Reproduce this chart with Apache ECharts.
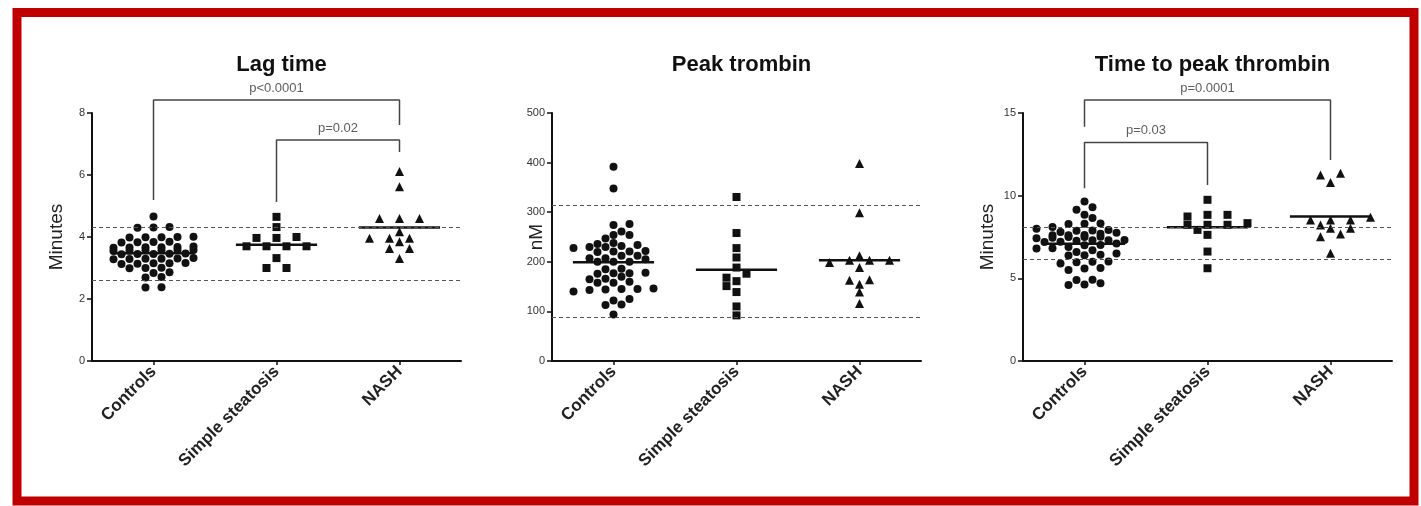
<!DOCTYPE html>
<html><head><meta charset="utf-8">
<script src="https://cdn.jsdelivr.net/npm/echarts@6/dist/echarts.min.js"></script>
<style>html,body{margin:0;padding:0;background:#fff}#chart{width:1421px;height:506px}</style>
</head><body><div id="chart"></div>
<script>
// ---------- DATA ----------
const categories = ['Controls', 'Simple steatosis', 'NASH'];

const lagControls = [4.66,
  4.32, 4.30, 4.31,
  4.00, 3.99, 4.01, 3.98, 3.99,
  3.84, 3.82, 3.83, 3.85,
  3.67, 3.68, 3.66, 3.67, 3.69, 3.65,
  3.57, 3.56, 3.58, 3.57, 3.55, 3.58,
  3.45, 3.46, 3.44, 3.45, 3.47,
  3.30, 3.31, 3.29, 3.30, 3.32, 3.28,
  3.15, 3.16, 3.14, 3.15, 3.13,
  3.00, 3.01, 2.99,
  2.86, 2.84,
  2.71, 2.69,
  2.38, 2.37];
const lagSteatosis = [4.65, 4.32, 4.00, 3.97, 3.97, 3.70, 3.70, 3.70, 3.70, 3.32, 3.00, 3.00];
const lagNash = [6.11, 5.62, 4.60, 4.60, 4.60, 4.17, 3.96, 3.96, 3.96, 3.85, 3.63, 3.63, 3.31];
const lagRefLines = [4.3, 2.6];

const peakControls = [391.6, 347.6, 276, 274, 261, 254, 254, 247, 238, 236,
  234, 232, 230, 230, 228, 222, 221, 221, 220, 212,
  212, 207, 207, 205, 200, 200, 200, 186, 185, 178,
  177, 177, 176, 170, 166, 165, 160, 158, 158, 146,
  145, 145, 144, 143, 140, 125, 122, 114, 113, 93.5];
const peakSteatosis = [330.7, 258, 227.6, 208.7, 188.4, 176, 168, 161, 151, 139, 110, 92];
const peakNash = [398, 299, 212, 203, 203, 203, 198.6, 188.4, 164, 163, 154.5, 139, 116];
const peakRefLines = [315, 88];

const ttpControls = [9.65, 9.30, 9.15, 8.85, 8.65, 8.30, 8.32, 8.28, 8.00, 7.90,
  7.92, 7.88, 8.10, 7.80, 7.70, 7.75, 7.60, 7.62, 7.50, 7.52,
  7.45, 7.40, 7.42, 7.30, 7.32, 7.28, 7.31, 7.20, 7.22, 7.10,
  7.00, 7.02, 6.90, 6.80, 6.82, 6.70, 6.60, 6.50, 6.40, 6.42,
  6.38, 7.60, 7.50, 6.00, 6.02, 5.98, 5.90, 5.60, 5.62, 5.50,
  4.90, 4.92, 4.70, 4.60, 4.62];
const ttpSteatosis = [9.75, 8.84, 8.84, 8.74, 8.34, 8.24, 8.24, 8.24, 7.93, 7.63, 6.62, 5.61];
const ttpNash = [11.35, 11.25, 10.79, 8.69, 8.53, 8.53, 8.53, 8.23, 8.03, 8.03, 7.68, 7.52, 6.52];
const ttpRefLines = [8.1, 6.15];

// brackets: from group, to group, bar level, leg ends, p-value text
const lagBrackets = [
  {from: 1, to: 3, y: 8.42, legFrom: 5.19, legTo: 7.61, text: 'p<0.0001', at: 2},
  {from: 2, to: 3, y: 7.13, legFrom: 5.13, legTo: 6.74, text: 'p=0.02', at: 2.5}
];
const peakBrackets = [];
const ttpBrackets = [
  {from: 1, to: 3, y: 15.79, legFrom: 14.17, legTo: 12.16, text: 'p=0.0001', at: 2},
  {from: 1, to: 2, y: 13.21, legFrom: 10.45, legTo: 10.65, text: 'p=0.03', at: 1.5}
];

const panelTitles = ['Lag time', 'Peak trombin', 'Time to peak thrombin'];
const yNames = ['Minutes', 'nM', 'Minutes'];
const yMaxes = [8, 500, 15];
const yIntervals = [2, 100, 5];

// ---------- LAYOUT ----------
const FONT = 'Liberation Sans, Arial, Helvetica, sans-serif';
const GRID_TOP = 113, GRID_H = 248, GRID_W = 369;
const gridLefts = [92, 552, 1023];
const nameGaps = [26, 6, 26];
const CAT_W = GRID_W / 3;
const SYMBOLS = ['circle', 'rect', 'triangle'];
const SYM_SIZE = [8, 8, 9];
const MEAN_HALF = 0.33;

const panels = [
  {groups: [lagControls, lagSteatosis, lagNash], refs: lagRefLines, brackets: lagBrackets},
  {groups: [peakControls, peakSteatosis, peakNash], refs: peakRefLines, brackets: peakBrackets},
  {groups: [ttpControls, ttpSteatosis, ttpNash], refs: ttpRefLines, brackets: ttpBrackets}
];

// deterministic row-based dot-plot layout (pixel offsets)
function swarm(values, pxPerUnit) {
  const big = values.length >= 30;
  const S = big ? 16 : 20, ROW_T = 3, DY = 7.5, DX = big ? 8 : 9, STEP = big ? 8 : 10;
  const idx = values.map((v, i) => i).sort((a, b) => values[a] - values[b]);
  const offs = new Array(values.length).fill(0);
  const placed = [];
  let i = 0, rowNo = 0;
  while (i < idx.length) {
    const y0 = values[idx[i]] * pxPerUnit;
    const row = [idx[i]]; i++;
    while (i < idx.length && values[idx[i]] * pxPerUnit - y0 < ROW_T) { row.push(idx[i]); i++; }
    const n = row.length;
    const base = row.map((_, k) => (k - (n - 1) / 2) * S);
    const sign = rowNo % 2 === 0 ? 1 : -1;
    const shifts = [0];
    for (let k = 1; k <= 6; k++) { shifts.push(sign * k * STEP, -sign * k * STEP); }
    let chosen = 0;
    for (const sh of shifts) {
      let ok = true;
      for (let k = 0; k < n && ok; k++) {
        const y = values[row[k]] * pxPerUnit, x = base[k] + sh;
        for (const p of placed) {
          if (Math.abs(p.y - y) < DY && Math.abs(p.x - x) < DX) { ok = false; break; }
        }
      }
      if (ok) { chosen = sh; break; }
    }
    row.forEach((id, k) => {
      const x = base[k] + chosen;
      offs[id] = x;
      placed.push({x: x, y: values[id] * pxPerUnit});
    });
    rowNo++;
  }
  return offs;
}

const mean = a => a.reduce((s, v) => s + v, 0) / a.length;

const grids = [], xAxes = [], yAxes = [], series = [], titles = [];
panels.forEach((panel, p) => {
  grids.push({left: gridLefts[p], top: GRID_TOP, width: GRID_W, height: GRID_H, containLabel: false});
  titles.push({
    text: panelTitles[p], left: gridLefts[p] + GRID_W / 2, top: 49, textAlign: 'center',
    textStyle: {fontFamily: FONT, fontSize: 22, fontWeight: 'bold', color: '#111'}
  });
  xAxes.push({
    type: 'category', gridIndex: p, data: categories, boundaryGap: true,
    axisLine: {show: true, lineStyle: {color: '#111', width: 2}},
    axisTick: {show: true, alignWithLabel: true, length: 4, lineStyle: {color: '#111', width: 1.5}},
    axisLabel: {rotate: 45, margin: 8, fontFamily: FONT, fontSize: 17, fontWeight: 'bold', color: '#222'},
    splitLine: {show: false}
  });
  xAxes.push({type: 'value', gridIndex: p, min: 0.5, max: 3.5, show: false, splitLine: {show: false}});
  yAxes.push({
    type: 'value', gridIndex: p, min: 0, max: yMaxes[p], interval: yIntervals[p],
    name: yNames[p], nameLocation: 'middle', nameGap: nameGaps[p], nameRotate: 90,
    nameMoveOverlap: false,
    nameTextStyle: {fontFamily: FONT, fontSize: 19, color: '#222'},
    axisLine: {show: true, lineStyle: {color: '#111', width: 2}},
    axisTick: {show: true, length: 5, lineStyle: {color: '#111', width: 1.5}},
    axisLabel: {fontFamily: FONT, fontSize: 11, color: '#333', margin: 7},
    splitLine: {show: false}
  });
  const xi = 2 * p + 1;
  const pxPerUnit = GRID_H / yMaxes[p];
  panel.groups.forEach((vals, g) => {
    const offs = swarm(vals, pxPerUnit);
    const s = {
      type: 'scatter', xAxisIndex: xi, yAxisIndex: p, symbol: SYMBOLS[g], symbolSize: SYM_SIZE[g],
      itemStyle: {color: '#111', opacity: 1}, silent: true, z: 2,
      data: vals.map((v, i) => [g + 1 + offs[i] / CAT_W, v])
    };
    if (g === 0) {
      s.markLine = {
        silent: true, symbol: ['none', 'none'], label: {show: false},
        lineStyle: {type: [4, 3], color: '#555', width: 1.2},
        data: panel.refs.map(v => ({yAxis: v}))
      };
    }
    series.push(s);
    const m = mean(vals);
    series.push({
      type: 'line', xAxisIndex: xi, yAxisIndex: p, symbol: 'none', silent: true, z: 3,
      lineStyle: {color: '#111', width: 2.5},
      data: [[g + 1 - MEAN_HALF, m], [g + 1 + MEAN_HALF, m]]
    });
  });
  panel.brackets.forEach(b => {
    series.push({
      type: 'line', xAxisIndex: xi, yAxisIndex: p, symbol: 'none', silent: true, clip: false, z: 3,
      lineStyle: {color: '#444', width: 1.5},
      data: [[b.from, b.legFrom], [b.from, b.y], [b.to, b.y], [b.to, b.legTo]]
    });
    series.push({
      type: 'scatter', xAxisIndex: xi, yAxisIndex: p, symbolSize: 1, silent: true, clip: false,
      itemStyle: {color: 'rgba(0,0,0,0)'},
      label: {show: true, position: 'top', distance: 5, formatter: b.text,
        fontFamily: FONT, fontSize: 13, color: '#333'},
      data: [[b.at, b.y]]
    });
  });
});

const chart = echarts.init(document.getElementById('chart'), null, {renderer: 'canvas'});
chart.setOption({
  backgroundColor: '#fff',
  animation: false,
  title: titles,
  grid: grids,
  xAxis: xAxes,
  yAxis: yAxes,
  series: series,
  graphic: [{
    type: 'rect', silent: true, z: 100,
    shape: {x: 17, y: 12.5, width: 1397, height: 488.5},
    style: {fill: 'none', stroke: '#c00000', lineWidth: 9}
  }]
});
</script></body></html>
